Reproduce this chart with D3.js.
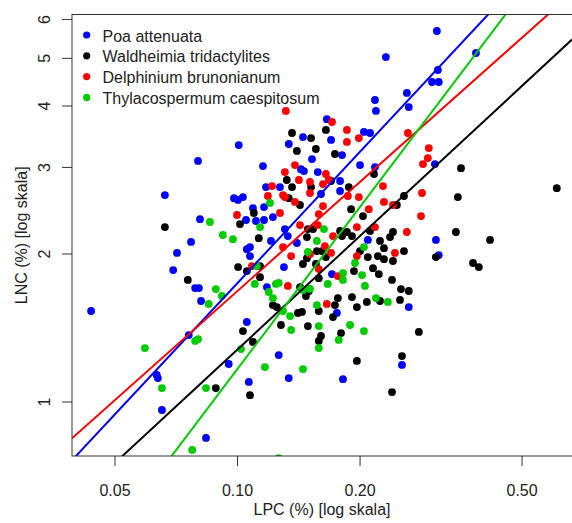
<!DOCTYPE html>
<html>
<head>
<meta charset="utf-8">
<script src="https://cdn.jsdelivr.net/npm/d3@7"></script>
<style>
  html, body { margin: 0; padding: 0; background: #ffffff; }
  svg { display: block; font-family: "Liberation Sans", Arial, sans-serif; }
</style>
</head>
<body>
<svg id="chart" width="572" height="523"></svg>
<script>
// Species, colours and leaf nutrient data (LPC %, LNC %)
const speciesNames = ["Poa attenuata", "Waldheimia tridactylites", "Delphinium brunonianum", "Thylacospermum caespitosum"];
const speciesColors = ["#0000FF", "#000000", "#FF0000", "#00CD00"];

const poaLPC = [0.0438,0.0665,0.0802,0.1010,0.0983,0.1005,0.1034,0.0811,0.0771,0.0712,0.0697,0.0789,0.0806,0.0816,0.0761,0.0954,0.0635,0.0639,0.0654,0.0839,0.308,0.313,0.2642,0.3097,0.3863,0.3114,0.3013,0.3130,0.2614,0.2642,0.3063,0.2321,0.2182,0.2194,0.1662,0.2050,0.2122,0.1452,0.1702,0.1340,0.1811,0.1528,0.2005,0.1158,0.1436,0.1460,0.2182,0.1579,0.1791,0.1178,0.1275,0.1791,0.1608,0.1094,0.1165,0.1225,0.1052,0.1113,0.1165,0.1311,0.1212,0.1333,0.1057,0.1076,0.1076,0.1403,0.2096,0.1304,0.1184,0.1711,0.1759,0.1057,0.1266,0.2542,0.1069,0.1340,0.1821];
const poaLNC = [1.528,2.630,3.085,3.324,2.592,2.570,2.605,2.349,2.111,2.005,1.851,1.701,1.701,1.601,1.365,1.192,1.132,1.116,0.961,0.843,2.131,1.985,1.556,5.671,5.115,4.724,4.466,4.466,4.242,3.971,3.041,5.018,4.105,3.899,3.752,3.534,3.517,3.450,3.404,3.340,3.172,3.112,3.026,3.012,2.969,2.943,2.998,2.929,2.809,2.730,2.730,2.680,2.643,2.474,2.486,2.372,2.340,2.329,2.340,2.242,2.121,2.170,2.041,2.061,1.976,2.101,2.131,1.877,1.709,1.816,1.514,1.451,1.243,1.187,1.096,1.116,1.110];

const waldLPC = [0.0665,0.1017,0.1006,0.0757,0.1034,0.0887,0.3449,0.4183,0.3080,0.3799,0.3927,0.2642,0.2797,0.3550,0.3487,0.6102,0.1653,0.1365,0.1520,0.1403,0.1562,0.1740,0.2170,0.1325,0.1702,0.1365,0.1520,0.1882,0.1340,0.2571,0.1428,0.1906,0.2470,0.1100,0.2039,0.1493,0.1537,0.1791,0.1862,0.2122,0.2416,0.1131,0.1485,0.1811,0.1916,0.2245,0.2376,0.1571,0.1617,0.1653,0.1485,0.2005,0.2296,0.2571,0.2096,0.2218,0.2296,0.2416,0.1452,0.1562,0.1139,0.2158,0.1938,0.1139,0.1057,0.1588,0.2230,0.2403,0.1428,0.1477,0.1501,0.1916,0.1769,0.2084,0.2245,0.2514,0.2528,0.1740,0.1970,0.1225,0.1253,0.1411,0.1444,0.1588,0.1721,0.1282,0.1493,0.1801,0.1608,0.1588,0.1094,0.2542,0.1970,0.1076,0.2403];
const waldLNC = [2.263,2.296,1.877,1.767,1.391,1.065,2.212,2.131,1.967,1.913,1.877,1.678,1.385,2.983,2.605,2.716,3.567,3.517,3.434,3.233,3.263,3.187,2.902,2.822,2.809,2.730,2.730,2.730,2.592,2.618,2.510,2.462,2.510,2.418,2.383,2.242,2.242,2.223,2.212,2.223,2.212,2.149,2.160,2.170,2.170,2.121,2.160,2.023,2.023,1.967,1.957,2.023,2.051,2.023,1.967,1.976,1.948,1.931,1.904,1.904,1.886,1.867,1.842,1.790,1.842,1.782,1.816,1.767,1.709,1.639,1.678,1.631,1.623,1.594,1.601,1.609,1.693,1.571,1.556,1.571,1.556,1.514,1.521,1.528,1.485,1.431,1.424,1.378,1.359,1.328,1.322,1.237,1.209,1.030,1.045];

const delphLPC = [0.1000,0.1318,0.1711,0.1862,0.1992,0.1862,0.1388,0.1311,0.1653,0.1419,0.1511,0.1681,0.1626,0.1219,0.2283,0.1511,0.1297,0.1311,0.1191,0.1872,0.1992,0.1388,0.1626,0.2107,0.2296,0.2416,0.1275,0.1588,0.1428,0.1579,0.1970,0.2182,0.2614,0.2628,0.2959,0.2943,0.2863,0.2847,0.2831,0.1297,0.1721,0.1644,0.1511,0.1702,0.1358,0.1970,0.2443,0.1088,0.1588,0.1769,0.1333,0.1662];
const delphLNC = [2.395,3.899,3.703,3.567,3.434,3.372,3.026,2.929,2.902,2.822,2.796,2.822,2.769,2.743,2.743,2.655,2.630,2.605,2.618,2.618,2.605,2.546,2.498,2.462,2.546,2.510,2.418,2.406,2.285,2.285,2.263,2.263,2.212,3.517,3.277,3.127,3.041,2.655,2.383,2.061,2.170,2.071,1.995,2.005,1.976,1.976,2.005,1.886,1.859,1.799,1.718,1.579];

const thylLPC = [0.0858,0.0923,0.0977,0.0887,0.0918,0.0852,0.0789,0.0802,0.0594,0.1023,0.0654,0.0839,0.0776,0.1205,0.1139,0.1635,0.1571,0.2050,0.1493,0.1949,0.1119,0.1821,0.1821,0.2028,0.1106,0.1246,0.1266,0.1671,0.2062,0.1197,0.1452,0.1511,0.1225,0.2194,0.2347,0.1571,0.1297,0.1350,0.1588,0.1895,0.2050,0.1358,0.1778,0.1588,0.1171,0.1452,0.1266];
const thylLNC = [2.318,2.181,2.139,1.693,1.639,1.579,1.328,1.339,1.284,1.278,1.065,1.065,0.797,2.534,2.263,2.242,2.121,2.061,2.014,1.913,1.886,1.825,1.767,1.808,1.734,1.734,1.742,1.734,1.718,1.670,1.686,1.694,1.623,1.623,1.594,1.571,1.528,1.492,1.424,1.431,1.391,1.398,1.334,1.284,1.175,1.164,0.767];

// Log-log regression per species: log10(LNC) = a + b * log10(LPC)
const fitIntercepts = [1.127, 0.872, 0.961, 1.160];
const fitSlopes     = [0.887, 0.767, 0.737, 1.095];

// Axis ticks
const lpcTicks = [0.05, 0.10, 0.20, 0.50];
const lncTicks = [1, 2, 3, 4, 5, 6];

const seriesLPC = [poaLPC, waldLPC, delphLPC, thylLPC];
const seriesLNC = [poaLNC, waldLNC, delphLNC, thylLNC];

(function draw() {
  const svg = d3.select("#chart");
  const pLeft = 72, pRight = 572, pTop = 14.5, pBottom = 456;

  const x = d3.scaleLog().domain([0.03932, 0.6651]).range([pLeft, pRight]);
  const y = d3.scaleLog().domain([0.7747, 6.126]).range([pBottom, pTop]);

  svg.append("defs").append("clipPath").attr("id", "plotClip")
    .append("rect").attr("x", pLeft).attr("y", pTop)
    .attr("width", pRight - pLeft).attr("height", pBottom - pTop);

  const plot = svg.append("g").attr("clip-path", "url(#plotClip)");

  // points
  seriesLPC.forEach((lpc, s) => {
    const pts = lpc.map((v, i) => ({ lpc: v, lnc: seriesLNC[s][i] }));
    plot.append("g").selectAll("circle").data(pts).join("circle")
      .attr("cx", d => x(d.lpc))
      .attr("cy", d => y(d.lnc))
      .attr("r", 3.9)
      .attr("fill", speciesColors[s]);
  });

  // regression lines across the whole x range
  const [x0, x1] = x.domain();
  fitIntercepts.forEach((a, s) => {
    const b = fitSlopes[s];
    const f = v => Math.pow(10, a + b * Math.log10(v));
    plot.append("line")
      .attr("x1", x(x0)).attr("y1", y(f(x0)))
      .attr("x2", x(x1)).attr("y2", y(f(x1)))
      .attr("stroke", speciesColors[s])
      .attr("stroke-width", 2);
  });

  // plot frame
  svg.append("rect")
    .attr("x", pLeft).attr("y", pTop)
    .attr("width", 600 - pLeft).attr("height", pBottom - pTop)
    .attr("fill", "none").attr("stroke", "#333").attr("stroke-width", 1);

  // x axis
  const xAxis = svg.append("g").attr("transform", `translate(0,${pBottom})`)
    .call(d3.axisBottom(x).tickValues(lpcTicks).tickFormat(d3.format(".2f")).tickSize(10).tickPadding(19));
  xAxis.select(".domain").remove();
  xAxis.selectAll(".tick line").attr("stroke", "#333");
  xAxis.selectAll("text").attr("font-size", 16).attr("fill", "#222")
    .attr("font-family", "'Liberation Sans', Arial, sans-serif");

  // y axis with rotated labels
  const yAxis = svg.append("g").attr("transform", `translate(${pLeft},0)`)
    .call(d3.axisLeft(y).tickValues(lncTicks).tickFormat(d3.format("d")).tickSize(10));
  yAxis.select(".domain").remove();
  yAxis.selectAll(".tick line").attr("stroke", "#333");
  yAxis.selectAll("text")
    .attr("font-size", 16).attr("fill", "#222")
    .attr("font-family", "'Liberation Sans', Arial, sans-serif")
    .attr("transform", "rotate(-90)")
    .attr("x", 0).attr("y", -22).attr("dy", 0)
    .attr("text-anchor", "middle");

  // axis titles
  svg.append("text")
    .attr("x", (pLeft + pRight) / 2).attr("y", 515)
    .attr("text-anchor", "middle").attr("font-size", 16).attr("fill", "#222")
    .text("LPC (%) [log skala]");

  svg.append("text")
    .attr("transform", `translate(27,${(pTop + pBottom) / 2}) rotate(-90)`)
    .attr("text-anchor", "middle").attr("font-size", 16).attr("fill", "#222")
    .text("LNC (%) [log skala]");

  // legend
  const legend = svg.append("g");
  speciesNames.forEach((name, i) => {
    const cy = 35 + i * 20.8;
    legend.append("circle").attr("cx", 86.7).attr("cy", cy).attr("r", 3.6).attr("fill", speciesColors[i]);
    legend.append("text").attr("x", 102.5).attr("y", cy + 6.5)
      .attr("font-size", 16).attr("fill", "#222").text(name);
  });
})();
</script>
</body>
</html>
